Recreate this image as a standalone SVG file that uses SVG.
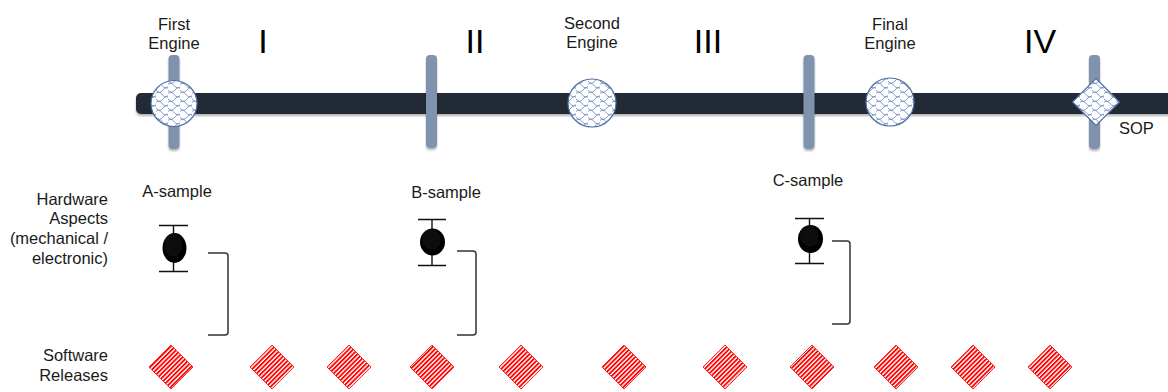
<svg xmlns="http://www.w3.org/2000/svg" width="1168" height="392" viewBox="0 0 1168 392">
<style>
text{font-family:"Liberation Sans",Arial,sans-serif;fill:#1a1a1a}
.lbl{font-size:16.5px}
.rn{font-size:34px;fill:#000;text-anchor:middle}
.mid{text-anchor:middle}
.end{text-anchor:end}
.vbar{fill:#7f93ae}
.eng{fill:url(#scale);stroke:#4f6ea3;stroke-width:1.2}
.cap{stroke:#111;stroke-width:1.4;fill:none}
.dot{fill:url(#dotg);filter:url(#soft)}
.br{fill:none;stroke:#333;stroke-width:1.5}
.sw{fill:url(#stripe);stroke:#f22;stroke-width:1}
</style>
<defs>
<pattern id="scale" width="12" height="9" patternUnits="userSpaceOnUse">
<rect width="12" height="9" fill="#fff"/>
<path d="M-1,4.5 q3.5,-4.5 7,0 t7,0 M-7,9 q3.5,-4.5 7,0 t7,0 t7,0 M-7,0 q3.5,-4.5 7,0 t7,0 t7,0" fill="none" stroke="#6f8cc0" stroke-width="0.9"/>
</pattern>
<pattern id="stripe" width="3.2" height="3.2" patternUnits="userSpaceOnUse" patternTransform="rotate(-45)">
<rect width="3.2" height="3.2" fill="#fff"/>
<rect width="3.2" height="1.8" fill="#f00"/>
</pattern>
<radialGradient id="dotg" cx="0.45" cy="0.4" r="0.6">
<stop offset="0" stop-color="#111"/>
<stop offset="1" stop-color="#000"/>
</radialGradient>
<filter id="soft" x="-30%" y="-30%" width="160%" height="160%"><feGaussianBlur stdDeviation="0.7"/></filter>
<filter id="shd" x="-5%" y="-30%" width="110%" height="180%"><feDropShadow dx="0" dy="2" stdDeviation="1.2" flood-color="#000" flood-opacity="0.3"/></filter>
</defs>

<g id="timeline">
<rect x="136" y="93" width="1060" height="21" rx="5" fill="#232a36" filter="url(#shd)"/>
</g>
<g id="gate-1"><rect class="vbar" x="168.5" y="55" width="11" height="94" rx="4" filter="url(#shd)"/></g>
<g id="gate-2"><rect class="vbar" x="426" y="55" width="11" height="93" rx="4" filter="url(#shd)"/></g>
<g id="gate-3"><rect class="vbar" x="803.5" y="55" width="11" height="94" rx="4" filter="url(#shd)"/></g>
<g id="gate-4"><rect class="vbar" x="1089" y="55" width="11" height="94" rx="4" filter="url(#shd)"/></g>

<g id="first-engine">
<circle class="eng" cx="174" cy="103.5" r="23"/>
<text class="lbl mid" x="174" y="30">First</text>
<text class="lbl mid" x="174" y="49">Engine</text>
</g>
<g id="second-engine">
<circle class="eng" cx="592" cy="103" r="24"/>
<text class="lbl mid" x="592" y="29">Second</text>
<text class="lbl mid" x="592" y="48">Engine</text>
</g>
<g id="final-engine">
<circle class="eng" cx="890" cy="102" r="24"/>
<text class="lbl mid" x="890" y="30">Final</text>
<text class="lbl mid" x="890" y="49">Engine</text>
</g>
<g id="sop">
<path class="eng" d="M1096,78.5 L1119.5,102 L1096,125.5 L1072.5,102 Z"/>
<text class="lbl" x="1119" y="134">SOP</text>
</g>

<g id="phases">
<text class="rn" x="263" y="53">I</text>
<text class="rn" x="475" y="53">II</text>
<text class="rn" x="708" y="53">III</text>
<text class="rn" x="1040" y="53">IV</text>
</g>

<g id="row-labels">
<text class="lbl end" x="108" y="205">Hardware</text>
<text class="lbl end" x="108" y="224">Aspects</text>
<text class="lbl end" x="108" y="244">(mechanical /</text>
<text class="lbl end" x="108" y="264">electronic)</text>
<text class="lbl end" x="108" y="361">Software</text>
<text class="lbl end" x="108" y="381">Releases</text>
</g>

<g id="a-sample">
<text class="lbl mid" x="177" y="197">A-sample</text>
<path class="cap" d="M159,225.5 H188 M159,271.5 H188 M173.5,225.5 V271.5"/>
<ellipse class="dot" cx="174.5" cy="248" rx="12" ry="15"/>
</g>
<g id="b-sample">
<text class="lbl mid" x="446" y="198">B-sample</text>
<path class="cap" d="M418,219.5 H446 M418,265.5 H446 M432,219.5 V265.5"/>
<ellipse class="dot" cx="432.5" cy="242" rx="12.5" ry="13.5"/>
</g>
<g id="c-sample">
<text class="lbl mid" x="808" y="186">C-sample</text>
<path class="cap" d="M795,218.5 H824 M795,263.5 H824 M809.5,218.5 V263.5"/>
<ellipse class="dot" cx="810.5" cy="239" rx="12.5" ry="14"/>
</g>

<g id="software-releases">
<path class="sw" d="M171,345 L193,367 L171,389 L149,367 Z"/>
<path class="sw" d="M272,345 L294,367 L272,389 L250,367 Z"/>
<path class="sw" d="M349,345 L371,367 L349,389 L327,367 Z"/>
<path class="sw" d="M432,345 L454,367 L432,389 L410,367 Z"/>
<path class="sw" d="M521,345 L543,367 L521,389 L499,367 Z"/>
<path class="sw" d="M624,345 L646,367 L624,389 L602,367 Z"/>
<path class="sw" d="M725,345 L747,367 L725,389 L703,367 Z"/>
<path class="sw" d="M812,345 L834,367 L812,389 L790,367 Z"/>
<path class="sw" d="M896,345 L918,367 L896,389 L874,367 Z"/>
<path class="sw" d="M973,345 L995,367 L973,389 L951,367 Z"/>
<path class="sw" d="M1050,345 L1072,367 L1050,389 L1028,367 Z"/>
</g>

<g id="connectors">
<path class="br" d="M208,253 H225 Q228,253 228,256 V332 Q228,335 225,335 H208"/>
<path class="br" d="M457,251 H473 Q476,251 476,254 V332 Q476,335 473,335 H457"/>
<path class="br" d="M832,241 H847 Q850,241 850,244 V321 Q850,324 847,324 H832"/>
</g>
</svg>
